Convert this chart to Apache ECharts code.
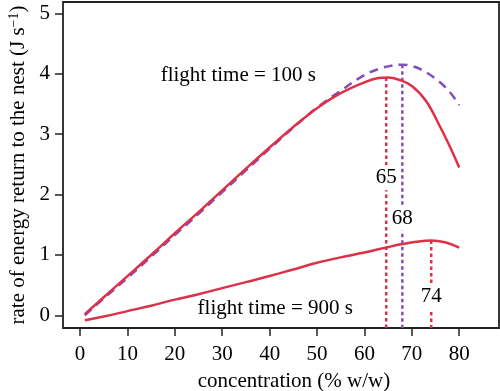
<!DOCTYPE html>
<html>
<head>
<meta charset="utf-8">
<script src="https://cdn.jsdelivr.net/npm/echarts@6/dist/echarts.min.js"></script>
<style>
html,body{margin:0;padding:0;background:#fff;}
#c{width:500px;height:391px;}
</style>
</head>
<body>
<div id="c"></div>
<script>
// concentration (% w/w) and rate of energy return (J s^-1)
var x100Red = [1, 5, 10, 15, 20, 25, 30, 35, 40, 45, 50, 55, 60, 63, 65, 67, 70, 73, 76, 78, 80];
var y100Red = [0.02, 0.30, 0.65, 1.00, 1.36, 1.71, 2.07, 2.43, 2.78, 3.12, 3.43, 3.68, 3.86, 3.93, 3.94, 3.91, 3.80, 3.55, 3.12, 2.80, 2.45];

var x100Purple = [1, 5, 10, 15, 20, 25, 30, 35, 40, 45, 50, 55, 60, 63, 66, 68, 70, 72, 75, 78, 80];
var y100Purple = [0.00, 0.28, 0.62, 0.97, 1.33, 1.68, 2.04, 2.40, 2.76, 3.11, 3.44, 3.72, 3.98, 4.08, 4.14, 4.15, 4.13, 4.07, 3.92, 3.70, 3.48];

var x900Red = [1, 5, 10, 15, 20, 25, 30, 35, 40, 45, 50, 55, 60, 65, 68, 71, 74, 77, 80];
var y900Red = [-0.08, -0.02, 0.07, 0.16, 0.26, 0.35, 0.45, 0.55, 0.65, 0.76, 0.87, 0.96, 1.04, 1.13, 1.18, 1.22, 1.24, 1.21, 1.12];

// optimum markers: x position, top value, label, label height
var optX = [64.6, 68.0, 74.1];
var optTop = [3.94, 4.15, 1.24];
var optLabels = ['65', '68', '74'];
var optLabelY = [2.28, 1.61, 0.31];

var xTicks = [0, 10, 20, 30, 40, 50, 60, 70, 80];
var yTicks = [0, 1, 2, 3, 4, 5];

var annTexts = ['flight time = 100 s', 'flight time = 900 s'];
var annX = [16.9, 24.7];
var annY = [3.97, 0.12];

var RED = '#dc3146';
var PURPLE = '#7f4fbf';
var FONT = 'Liberation Serif';
var XMIN = -3.6, XMAX = 88.4, YMIN = -0.21, YMAX = 5.19;

function zip(a, b) { return a.map(function (v, i) { return [v, b[i]]; }); }

var optColors = [RED, PURPLE, RED];
var series = [];
optX.forEach(function (xv, i) {
  series.push({
    type: 'line', data: [[xv, optTop[i]], [xv, YMIN]],
    showSymbol: false, silent: true, z: 2,
    lineStyle: { color: optColors[i], width: 2.5, type: [3.5, 3] }
  });
});
series.push({
  type: 'line', data: zip(x100Purple, y100Purple), smooth: 0.4, showSymbol: false, z: 3,
  lineStyle: { color: PURPLE, width: 2.5, type: [9, 6] }
});
series.push({
  type: 'line', data: zip(x100Red, y100Red), smooth: 0.4, showSymbol: false, z: 4,
  lineStyle: { color: RED, width: 2.5 }
});
series.push({
  type: 'line', data: zip(x900Red, y900Red), smooth: 0.4, showSymbol: false, z: 4,
  lineStyle: { color: RED, width: 2.5 }
});
var labelBase = { show: true, color: '#000', opacity: 1, fontSize: 21, fontFamily: FONT, textBorderWidth: 0 };
series.push({
  type: 'scatter', z: 6, symbol: 'circle', symbolSize: 1, itemStyle: { color: 'rgba(0,0,0,0)' },
  data: optX.map(function (xv, i) { return { value: [xv, optLabelY[i]], name: optLabels[i] }; }),
  labelLayout: { hideOverlap: false },
  label: Object.assign({}, labelBase, {
    position: 'inside', formatter: function (p) { return p.name; },
    backgroundColor: '#fff', padding: [2, 1]
  }),
  emphasis: { disabled: true }
});
series.push({
  type: 'scatter', z: 6, symbol: 'circle', symbolSize: 1, itemStyle: { color: 'rgba(0,0,0,0)' },
  data: annX.map(function (xv, i) { return { value: [xv, annY[i]], name: annTexts[i] }; }),
  labelLayout: { hideOverlap: false },
  label: Object.assign({}, labelBase, {
    position: 'right', distance: 0, formatter: function (p) { return p.name; }
  }),
  emphasis: { disabled: true }
});

var chart = echarts.init(document.getElementById('c'), null, { renderer: 'canvas' });
chart.setOption({
  animation: false,
  backgroundColor: '#fff',
  textStyle: { fontFamily: FONT, color: '#000' },
  grid: {
    left: 63, right: 1, top: 2, bottom: 63, containLabel: false, outerBoundsMode: 'none',
    show: true, borderColor: '#222', borderWidth: 1.8, backgroundColor: 'transparent'
  },
  xAxis: {
    type: 'value', min: XMIN, max: XMAX,
    name: 'concentration (% w/w)', nameLocation: 'middle', nameGap: 43,
    nameTextStyle: { fontSize: 21, fontFamily: FONT, color: '#000', padding: [0, 0, 0, 26] },
    axisLine: { show: false, onZero: false },
    axisTick: { show: true, length: 8, inside: false, customValues: xTicks, lineStyle: { color: '#222', width: 1.5 } },
    axisLabel: { customValues: xTicks, fontSize: 21, fontFamily: FONT, color: '#000', margin: 16 },
    splitLine: { show: false }
  },
  yAxis: {
    type: 'value', min: YMIN, max: YMAX,
    name: 'rate of energy return to the nest (J s{sup|\u22121})', nameLocation: 'middle', nameGap: 34,
    nameTextStyle: {
      fontSize: 21, fontFamily: FONT, color: '#000',
      rich: { sup: { fontSize: 14, fontFamily: FONT, color: '#000', verticalAlign: 'top', padding: [0, 0, 8, 0] } }
    },
    axisLine: { show: false, onZero: false },
    axisTick: { show: true, length: 8, inside: false, customValues: yTicks, lineStyle: { color: '#222', width: 1.5 } },
    axisLabel: { customValues: yTicks, fontSize: 21, fontFamily: FONT, color: '#000', margin: 13 },
    splitLine: { show: false }
  },
  series: series
});
</script>
</body>
</html>
